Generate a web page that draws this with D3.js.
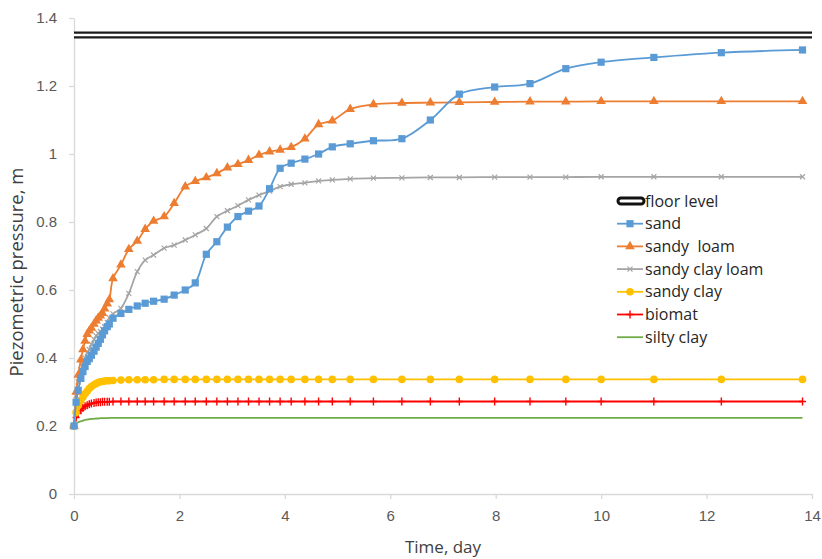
<!DOCTYPE html>
<html>
<head>
<meta charset="UTF-8">
<script src="https://d3js.org/d3.v7.min.js"></script>
<style>
  body { margin: 0; background: #fff; }
  svg { display: block; font-family: "Open Sans", "Liberation Sans", sans-serif; }
  .axis text { fill: #595959; font-size: 15px; }
  .axis path, .axis line { stroke: #d9d9d9; stroke-width: 1.3px; }
</style>
</head>
<body>
<svg id="chart" width="822" height="559"></svg>
<script>
// time of each reading, days
const days = [0, 0.04, 0.08, 0.13, 0.17, 0.21, 0.25, 0.29, 0.33, 0.38, 0.42, 0.46, 0.5, 0.54, 0.58, 0.63, 0.67,
  0.74, 0.89, 1.04, 1.2, 1.35, 1.51, 1.71, 1.9, 2.11, 2.3, 2.51, 2.71, 2.91, 3.11, 3.31, 3.51, 3.71, 3.91,
  4.12, 4.38, 4.64, 4.9, 5.24, 5.68, 6.22, 6.76, 7.31, 7.98, 8.65, 9.33, 10.0, 11.0, 12.28, 13.82];

const sand = [0.2, 0.27, 0.305, 0.34, 0.36, 0.375, 0.39, 0.398, 0.408, 0.42, 0.432, 0.443, 0.455, 0.468, 0.48, 0.492, 0.5,
  0.517, 0.531, 0.543, 0.553, 0.561, 0.567, 0.573, 0.585, 0.6, 0.621, 0.705, 0.742, 0.785, 0.816, 0.832, 0.847, 0.898, 0.958,
  0.973, 0.985, 1.0, 1.021, 1.03, 1.039, 1.045, 1.1, 1.176, 1.197, 1.207, 1.251, 1.27, 1.284, 1.298, 1.306];

const sandyLoam = [0.2, 0.3, 0.35, 0.395, 0.425, 0.45, 0.47, 0.48, 0.488, 0.5, 0.51, 0.518, 0.524, 0.532, 0.545, 0.56, 0.572,
  0.634, 0.674, 0.72, 0.744, 0.779, 0.803, 0.816, 0.855, 0.904, 0.92, 0.931, 0.943, 0.96, 0.97, 0.982, 0.997, 1.007, 1.012,
  1.02, 1.045, 1.087, 1.098, 1.132, 1.146, 1.15, 1.151, 1.152, 1.153, 1.154, 1.154, 1.155, 1.155, 1.155, 1.155];

const sandyClayLoam = [0.2, 0.29, 0.33, 0.365, 0.385, 0.4, 0.415, 0.425, 0.44, 0.455, 0.465, 0.472, 0.478, 0.485, 0.492, 0.505, 0.518,
  0.53, 0.546, 0.59, 0.654, 0.688, 0.703, 0.723, 0.732, 0.747, 0.762, 0.781, 0.816, 0.833, 0.848, 0.865, 0.879, 0.891, 0.904,
  0.911, 0.915, 0.921, 0.924, 0.927, 0.929, 0.93, 0.931, 0.931, 0.932, 0.932, 0.932, 0.933, 0.933, 0.933, 0.933];

const sandyClay = [0.2, 0.24, 0.26, 0.275, 0.285, 0.295, 0.302, 0.31, 0.316, 0.321, 0.325, 0.328, 0.33, 0.331, 0.332, 0.333, 0.333,
  0.334, 0.335, 0.336, 0.336, 0.336, 0.336, 0.337, 0.337, 0.337, 0.337, 0.337, 0.337, 0.337, 0.337, 0.337, 0.337, 0.337, 0.337,
  0.337, 0.337, 0.337, 0.337, 0.337, 0.337, 0.337, 0.337, 0.337, 0.337, 0.337, 0.337, 0.337, 0.337, 0.337, 0.337];

const biomat = [0.2, 0.225, 0.238, 0.246, 0.253, 0.258, 0.261, 0.264, 0.266, 0.268, 0.269, 0.27, 0.27, 0.271, 0.271, 0.271, 0.271,
  0.272, 0.272, 0.272, 0.272, 0.272, 0.272, 0.272, 0.272, 0.272, 0.272, 0.272, 0.272, 0.272, 0.272, 0.272, 0.272, 0.272, 0.272,
  0.272, 0.272, 0.272, 0.272, 0.272, 0.272, 0.272, 0.272, 0.272, 0.272, 0.272, 0.272, 0.272, 0.272, 0.272, 0.272];

const siltyClay = [0.2, 0.207, 0.211, 0.214, 0.216, 0.218, 0.219, 0.22, 0.221, 0.221, 0.222, 0.222, 0.223, 0.223, 0.223, 0.223, 0.224,
  0.224, 0.224, 0.224, 0.224, 0.224, 0.224, 0.224, 0.224, 0.224, 0.224, 0.224, 0.224, 0.224, 0.224, 0.224, 0.224, 0.224, 0.224,
  0.224, 0.224, 0.224, 0.224, 0.224, 0.224, 0.224, 0.224, 0.224, 0.224, 0.224, 0.224, 0.224, 0.224, 0.224, 0.224];

const floorDays = [0, 14];
const floorLevel = [1.35, 1.35];

const xTicks = [0, 2, 4, 6, 8, 10, 12, 14];
const yTicks = [0, 0.2, 0.4, 0.6, 0.8, 1, 1.2, 1.4];

const series = [
  { name: "sand", values: sand, color: "#5b9bd5", marker: "square" },
  { name: "sandy  loam", values: sandyLoam, color: "#ed7d31", marker: "triangle" },
  { name: "sandy clay loam", values: sandyClayLoam, color: "#a5a5a5", marker: "x" },
  { name: "sandy clay", values: sandyClay, color: "#ffc000", marker: "circle" },
  { name: "biomat", values: biomat, color: "#ff0000", marker: "plus" },
  { name: "silty clay", values: siltyClay, color: "#70ad47", marker: null }
];

const margin = { left: 74, top: 18, right: 10, bottom: 65 };
const width = 822, height = 559;

const svg = d3.select("#chart");

const x = d3.scaleLinear().domain([0, 14]).range([margin.left, width - margin.right]);
const y = d3.scaleLinear().domain([0, 1.4]).range([height - margin.bottom, margin.top]);

// axes
svg.append("g")
  .attr("class", "axis")
  .attr("transform", `translate(0,${y(0)})`)
  .call(d3.axisBottom(x).tickValues(xTicks).tickSize(5).tickSizeOuter(0).tickPadding(11).tickFormat(d3.format("d")));

svg.append("g")
  .attr("class", "axis")
  .attr("transform", `translate(${x(0)},0)`)
  .call(d3.axisLeft(y).tickValues(yTicks).tickSize(5).tickSizeOuter(0).tickPadding(12).tickFormat(d => d3.format("")(+d.toFixed(1))));

svg.append("text")
  .attr("x", (x(0) + x(14)) / 2)
  .attr("y", 553)
  .attr("text-anchor", "middle")
  .style("font-size", "17px")
  .style("fill", "#404040")
  .text("Time, day");

svg.append("text")
  .attr("transform", `translate(23,272) rotate(-90)`)
  .attr("text-anchor", "middle")
  .style("font-size", "18.5px")
  .style("fill", "#404040")
  .text("Piezometric pressure, m");

// floor level: black line with white core
const floorLine = d3.line().x((d, i) => x(floorDays[i])).y(d => y(d));
svg.append("path").datum(floorLevel).attr("d", floorLine)
  .attr("fill", "none").attr("stroke", "#1a1a1a").attr("stroke-width", 7);
svg.append("path").datum(floorLevel).attr("d", floorLine)
  .attr("fill", "none").attr("stroke", "#fff").attr("stroke-width", 2.6);

function drawMarker(g, type, color, cx, cy) {
  if (type === "square") {
    g.append("rect").attr("x", cx - 3.6).attr("y", cy - 3.6).attr("width", 7.2).attr("height", 7.2).attr("fill", color);
  } else if (type === "triangle") {
    g.append("path").attr("d", d3.symbol(d3.symbolTriangle, 40)()).attr("transform", `translate(${cx},${cy})`).attr("fill", color);
  } else if (type === "circle") {
    g.append("circle").attr("cx", cx).attr("cy", cy).attr("r", 3.8).attr("fill", color);
  } else if (type === "x") {
    g.append("path").attr("d", `M${cx - 2.5},${cy - 2.5}L${cx + 2.5},${cy + 2.5}M${cx - 2.5},${cy + 2.5}L${cx + 2.5},${cy - 2.5}`)
      .attr("stroke", color).attr("stroke-width", 1.2);
  } else if (type === "plus") {
    g.append("path").attr("d", `M${cx - 3.5},${cy}L${cx + 3.5},${cy}M${cx},${cy - 4}L${cx},${cy + 4}`)
      .attr("stroke", color).attr("stroke-width", 1.4);
  }
}

// series lines and markers
series.slice().reverse().forEach(s => {
  const line = d3.line().curve(d3.curveCatmullRom.alpha(0.5))
    .x((d, i) => x(days[i])).y(d => y(d));
  const g = svg.append("g");
  g.append("path").datum(s.values).attr("d", line)
    .attr("fill", "none").attr("stroke", s.color).attr("stroke-width", 1.8);
  if (s.marker) {
    s.values.forEach((v, i) => drawMarker(g, s.marker, s.color, x(days[i]), y(v)));
  }
});

// legend
const legend = svg.append("g");
const lx = 617, ly0 = 201, step = 22.7;
legend.append("rect").attr("x", lx + 1).attr("y", ly0 - 3).attr("width", 26).attr("height", 6).attr("rx", 3)
  .attr("fill", "#fff").attr("stroke", "#111").attr("stroke-width", 3);
legend.append("text").attr("x", lx + 28).attr("y", ly0).attr("dy", "0.35em")
  .style("font-size", "16px").style("fill", "#262626").text("floor level");
series.forEach((s, i) => {
  const cy = ly0 + step * (i + 1);
  legend.append("line").attr("x1", lx).attr("x2", lx + 26).attr("y1", cy).attr("y2", cy)
    .attr("stroke", s.color).attr("stroke-width", 1.8);
  if (s.marker) drawMarker(legend, s.marker, s.color, lx + 13, cy);
  legend.append("text").attr("x", lx + 28).attr("y", cy).attr("dy", "0.35em")
    .style("font-size", "16px").style("fill", "#262626").style("white-space", "pre").text(s.name);
});
</script>
</body>
</html>
